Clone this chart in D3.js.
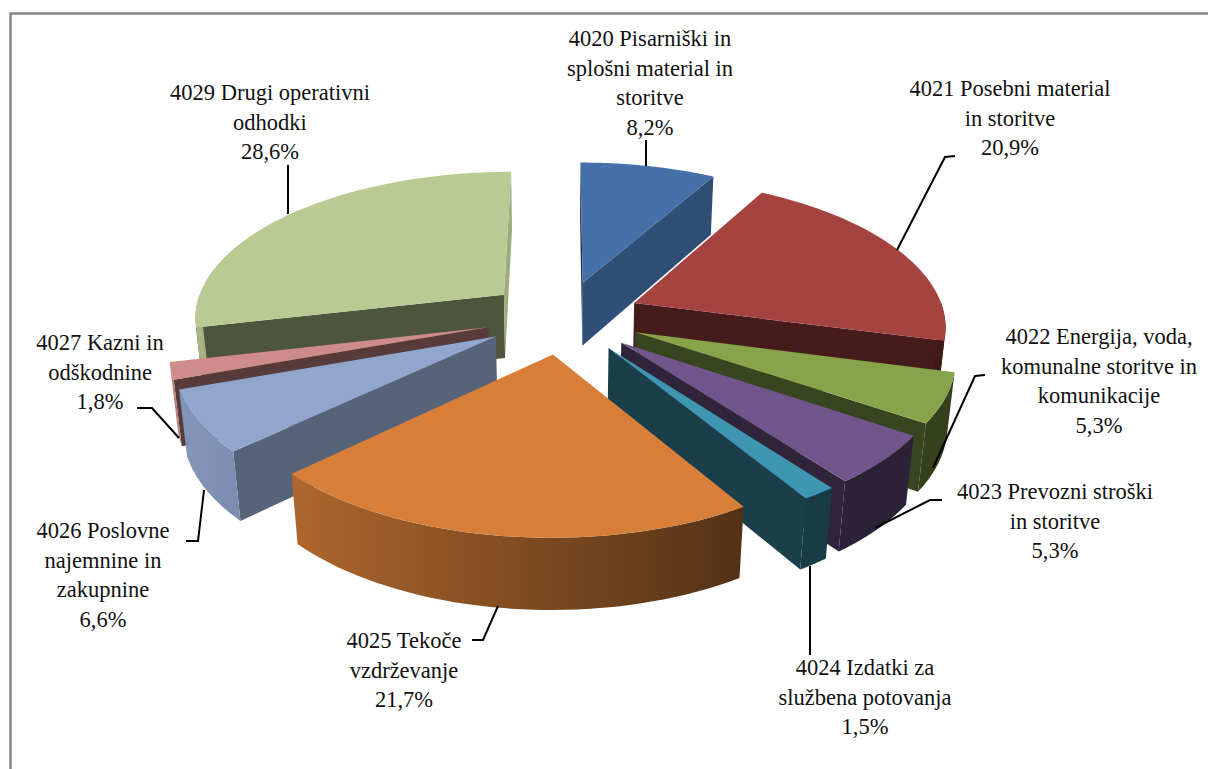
<!DOCTYPE html>
<html>
<head>
<meta charset="utf-8">
<script src="https://cdnjs.cloudflare.com/ajax/libs/d3/7.8.5/d3.min.js"></script>
<style>
  html, body { margin: 0; padding: 0; background: #fff; overflow: hidden; }
  text { font-family: "Liberation Serif", serif; font-size: 22.5px; fill: #111; }
</style>
</head>
<body>
<div id="chart"></div>
<script>
'use strict';
const categories = ['4020', '4021', '4022', '4023', '4024', '4025', '4026', '4027', '4029'];
const shares = [8.2, 20.9, 5.3, 5.3, 1.5, 21.7, 6.6, 1.8, 28.6];
const colours = ['#4571a8', '#a54341', '#88a44b', '#71568c', '#3f96b0', '#d77f39', '#90a6cc', '#cd8c8a', '#b9ca92'];
const labelLines = [
  ['4020 Pisarniški in', 'splošni material in', 'storitve', '8,2%'],
  ['4021 Posebni material', 'in storitve', '20,9%'],
  ['4022 Energija, voda,', 'komunalne storitve in', 'komunikacije', '5,3%'],
  ['4023 Prevozni stroški', 'in storitve', '5,3%'],
  ['4024 Izdatki za', 'službena potovanja', '1,5%'],
  ['4025 Tekoče', 'vzdrževanje', '21,7%'],
  ['4026 Poslovne', 'najemnine in', 'zakupnine', '6,6%'],
  ['4027 Kazni in', 'odškodnine', '1,8%'],
  ['4029 Drugi operativni', 'odhodki', '28,6%']
];

// label block position (centre x, first baseline) and leader polyline, same order as categories
const labelPos = [[650, 46], [1010, 96], [1099, 344], [1055, 499], [865, 675], [404, 648], [103, 538], [100, 350], [270, 100]];
const leaders = [
  [[646, 140], [646, 166]],
  [[897, 250], [945, 157], [955, 156]],
  [[933, 468], [975, 376], [985, 375]],
  [[875, 528], [930, 500], [942, 500]],
  [[810, 566], [810, 655]],
  [[498, 606], [483, 640], [472, 640]],
  [[204, 490], [198, 541], [186, 541]],
  [[179, 438], [152, 408], [137, 408]],
  [[288, 214], [288, 165]]
];

const width = 1208, height = 769;
const cx = 563.5, cy = 317, rx = 311, ry = 146, wallH = 65.5;
const explode = 0.25, persp = 0.14, perspZ = 0.02;

const svg = d3.select('#chart').append('svg')
  .attr('width', width)
  .attr('height', height);

// frame runs off the right and bottom of the picture
svg.append('rect')
  .attr('x', 10.5).attr('y', 13.5)
  .attr('width', width + 50).attr('height', height + 50)
  .attr('fill', 'none')
  .attr('stroke', '#868686')
  .attr('stroke-width', 2.5);

function project(u, v, z) {
  const w = 1 + persp * v + perspZ * z;
  return [cx + rx * u / w, cy - ry * v / w + wallH * z / w];
}

const line = d3.line();
const poly = pts => line(pts) + 'Z';

function shade(col, f) {
  const c = d3.rgb(col);
  return d3.rgb(c.r * f, c.g * f, c.b * f).formatHex();
}

// lighting of the outer wall goes with screen x, of the cut walls with their facing
const outerLight = d3.scaleLinear().domain([190, 740]).range([0.9, 0.39]).clamp(true);
const cutLight = d3.scaleLinear().domain([90, 120, 136, 160, 240]).range([0.85, 0.7, 0.6, 0.42, 0.42]).clamp(true);

const pie = d3.pie().sort(null).value(d => d.share);
const slices = pie(categories.map((c, i) => ({
  code: c,
  share: shares[i],
  colour: colours[i]
}))).map(d => {
  const mid = (d.startAngle + d.endAngle) / 2;
  d.ox = explode * Math.sin(mid);
  d.oy = explode * Math.cos(mid);
  return d;
});

const onRim = (d, a, z) => project(d.ox + Math.sin(a), d.oy + Math.cos(a), z);
const arcAngles = (a0, a1) => d3.range(0, 41).map(i => a0 + (a1 - a0) * i / 40);

function cutWall(d, a) {
  return poly([
    project(d.ox, d.oy, 0),
    onRim(d, a, 0),
    onRim(d, a, 1),
    project(d.ox, d.oy, 1)
  ]);
}

const defs = svg.append('defs');
slices.forEach(d => {
  const g = defs.append('linearGradient')
    .attr('id', 'rim' + d.data.code)
    .attr('gradientUnits', 'userSpaceOnUse')
    .attr('x1', outerLight.domain()[0]).attr('x2', outerLight.domain()[1])
    .attr('y1', 0).attr('y2', 0);
  g.append('stop').attr('offset', 0).attr('stop-color', shade(d.data.colour, outerLight.range()[0]));
  g.append('stop').attr('offset', 1).attr('stop-color', shade(d.data.colour, outerLight.range()[1]));
});

// back slices first, each later one covers what is behind it
const node = svg.selectAll('.slice')
  .data(slices.slice().sort((a, b) => d3.descending(a.oy, b.oy)))
  .enter().append('g')
  .attr('class', 'slice');

node.each(function(d) {
  const g = d3.select(this);
  const startNormal = (d.startAngle * 180 / Math.PI - 90 + 360) % 360;
  const endNormal = (d.endAngle * 180 / Math.PI + 90) % 360;

  // cut faces, only the ones turned towards the viewer
  if (startNormal > 88 && startNormal < 272) {
    g.append('path').attr('d', cutWall(d, d.startAngle))
      .attr('fill', shade(d.data.colour, cutLight(startNormal)));
  }
  if (endNormal > 88 && endNormal < 272) {
    g.append('path').attr('d', cutWall(d, d.endAngle))
      .attr('fill', shade(d.data.colour, cutLight(endNormal)));
  }

  // outer rim, front half of the pie only
  const a0 = Math.max(d.startAngle, Math.PI / 2);
  const a1 = Math.min(d.endAngle, Math.PI * 1.5);
  if (a1 > a0) {
    const angles = arcAngles(a0, a1);
    g.append('path')
      .attr('d', poly(angles.map(a => onRim(d, a, 0)).concat(angles.slice().reverse().map(a => onRim(d, a, 1)))))
      .attr('fill', 'url(#rim' + d.data.code + ')');
  }

  // top face
  g.append('path')
    .attr('d', poly([project(d.ox, d.oy, 0)].concat(arcAngles(d.startAngle, d.endAngle).map(a => onRim(d, a, 0)))))
    .attr('fill', d.data.colour);
});

svg.append('g').selectAll('path')
  .data(leaders)
  .enter().append('path')
  .attr('d', d => line(d))
  .attr('fill', 'none')
  .attr('stroke', '#000')
  .attr('stroke-width', 2);

const labels = svg.append('g').selectAll('text')
  .data(labelLines)
  .enter().append('text')
  .attr('text-anchor', 'middle');

labels.selectAll('tspan')
  .data((d, i) => d.map(t => ({text: t, pos: labelPos[i]})))
  .enter().append('tspan')
  .attr('x', d => d.pos[0])
  .attr('y', (d, i) => d.pos[1] + i * 29.7)
  .text(d => d.text);
</script>
</body>
</html>
